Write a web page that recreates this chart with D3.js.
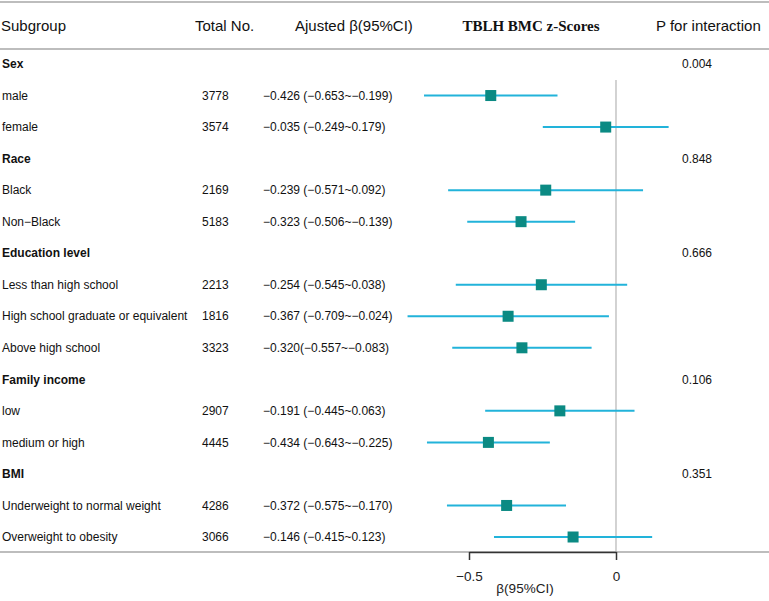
<!DOCTYPE html>
<html>
<head>
<meta charset="utf-8">
<script src="https://cdn.jsdelivr.net/npm/d3@7"></script>
<style>
  body { margin: 0; background: #fff; }
  svg { display: block; font-family: "Liberation Sans", Arial, sans-serif; }
</style>
</head>
<body>
<svg id="chart" width="769" height="601"></svg>
<script>
// Table rows (group headings have no totals / estimates)
const subgroups = [
  "Sex", "male", "female",
  "Race", "Black", "Non\u2212Black",
  "Education level", "Less than high school", "High school graduate or equivalent", "Above high school",
  "Family income", "low", "medium or high",
  "BMI", "Underweight to normal weight", "Overweight to obesity"
];
const totals = [null, "3778", "3574", null, "2169", "5183", null, "2213", "1816", "3323", null, "2907", "4445", null, "4286", "3066"];
const betaText = [
  null, "\u22120.426 (\u22120.653~\u22120.199)", "\u22120.035 (\u22120.249~0.179)",
  null, "\u22120.239 (\u22120.571~0.092)", "\u22120.323 (\u22120.506~\u22120.139)",
  null, "\u22120.254 (\u22120.545~0.038)", "\u22120.367 (\u22120.709~\u22120.024)", "\u22120.320(\u22120.557~\u22120.083)",
  null, "\u22120.191 (\u22120.445~0.063)", "\u22120.434 (\u22120.643~\u22120.225)",
  null, "\u22120.372 (\u22120.575~\u22120.170)", "\u22120.146 (\u22120.415~0.123)"
];
const estimates = [null, -0.426, -0.035, null, -0.239, -0.323, null, -0.254, -0.367, -0.320, null, -0.191, -0.434, null, -0.372, -0.146];
const lower = [null, -0.653, -0.249, null, -0.571, -0.506, null, -0.545, -0.709, -0.557, null, -0.445, -0.643, null, -0.575, -0.415];
const upper = [null, -0.199, 0.179, null, 0.092, -0.139, null, 0.038, -0.024, -0.083, null, 0.063, -0.225, null, -0.170, 0.123];
const pInteraction = ["0.004", null, null, "0.848", null, null, "0.666", null, null, null, "0.106", null, null, "0.351", null, null];
const xTicks = [-0.5, 0];

const width = 769;
const svg = d3.select("#chart");

const y = d3.scalePoint()
  .domain(d3.range(subgroups.length))
  .range([64, 537]);

const x = d3.scaleLinear()
  .domain([-0.5, 0])
  .range([469, 616]);

const axisY = 552;

// Table rules
[2, 49, axisY].forEach((ly) => {
  svg.append("line")
    .attr("x1", 0).attr("x2", width)
    .attr("y1", ly).attr("y2", ly)
    .attr("stroke", "#bdbdbd")
    .attr("stroke-width", 2);
});

// Header
const header = svg.append("g").attr("font-size", 15).attr("fill", "#111");
header.append("text").attr("x", 1).attr("y", 26).attr("dy", "0.35em").text("Subgroup");
header.append("text").attr("x", 195).attr("y", 26).attr("dy", "0.35em").text("Total No.");
header.append("text").attr("x", 295).attr("y", 26).attr("dy", "0.35em").text("Ajusted \u03b2(95%CI)");
header.append("text").attr("x", 531).attr("y", 26).attr("dy", "0.35em")
  .attr("text-anchor", "middle")
  .attr("font-family", "'Liberation Serif', 'Times New Roman', serif")
  .attr("font-weight", "bold")
  .text("TBLH BMC z-Scores");
header.append("text").attr("x", 656).attr("y", 26).attr("dy", "0.35em").text("P for interaction");

// Rows
const rows = svg.append("g").attr("font-size", 12).attr("fill", "#111");
subgroups.forEach((label, i) => {
  const ry = y(i);
  rows.append("text")
    .attr("x", 2).attr("y", ry).attr("dy", "0.35em")
    .attr("font-weight", totals[i] == null ? "bold" : "normal")
    .text(label);
  if (totals[i] != null) {
    rows.append("text").attr("x", 202).attr("y", ry).attr("dy", "0.35em").text(totals[i]);
    rows.append("text").attr("x", 263).attr("y", ry).attr("dy", "0.35em").text(betaText[i]);
  }
  if (pInteraction[i] != null) {
    rows.append("text").attr("x", 682).attr("y", ry).attr("dy", "0.35em").text(pInteraction[i]);
  }
});

// Reference line at zero
svg.append("line")
  .attr("x1", x(0)).attr("x2", x(0))
  .attr("y1", 80).attr("y2", axisY)
  .attr("stroke", "#b5b5b5")
  .attr("stroke-width", 1.2);

// Confidence intervals and point estimates
const idx = d3.range(subgroups.length).filter((i) => estimates[i] != null);
const forest = svg.append("g");
forest.selectAll("line.ci")
  .data(idx)
  .join("line")
  .attr("class", "ci")
  .attr("x1", (i) => x(lower[i]))
  .attr("x2", (i) => x(upper[i]))
  .attr("y1", (i) => y(i))
  .attr("y2", (i) => y(i))
  .attr("stroke", "#22b3da")
  .attr("stroke-width", 2);

const sq = 11;
forest.selectAll("rect.est")
  .data(idx)
  .join("rect")
  .attr("class", "est")
  .attr("x", (i) => x(estimates[i]) - sq / 2)
  .attr("y", (i) => y(i) - sq / 2)
  .attr("width", sq)
  .attr("height", sq)
  .attr("fill", "#0b8a83");

// X axis
const axis = svg.append("g")
  .attr("transform", `translate(0,${axisY})`)
  .call(d3.axisBottom(x).tickValues(xTicks).tickSize(8).tickSizeOuter(0)
    .tickFormat((d) => (d === 0 ? "0" : d3.format(".1f")(d).replace("-", "\u2212"))));
axis.select(".domain").attr("stroke", "#333").attr("stroke-width", 1.5);
axis.selectAll(".tick line").attr("stroke", "#333").attr("stroke-width", 1.5);
axis.selectAll(".tick text")
  .attr("font-size", 13.5)
  .attr("font-family", "'Liberation Sans', Arial, sans-serif")
  .attr("fill", "#222")
  .attr("y", 19);

svg.append("text")
  .attr("x", 525).attr("y", 593)
  .attr("text-anchor", "middle")
  .attr("font-size", 13.5)
  .attr("fill", "#222")
  .text("\u03b2(95%CI)");
</script>
</body>
</html>
